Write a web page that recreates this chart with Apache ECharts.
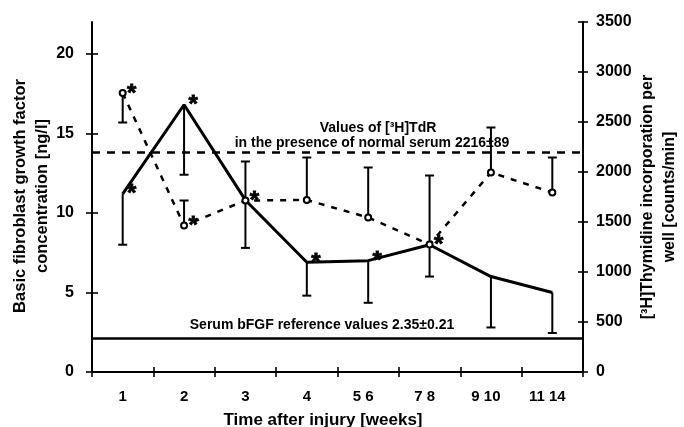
<!DOCTYPE html>
<html>
<head>
<meta charset="utf-8">
<script src="https://cdn.jsdelivr.net/npm/echarts@6/dist/echarts.min.js"></script>
<style>html,body{margin:0;padding:0;background:#fff;}#c{width:684px;height:427px;}</style>
</head>
<body>
<div id="c"></div>
<script>
// ---- data ----
const categories = ['1', '2', '3', '4', '5 6', '7 8', '9 10', '11 14'];
// bFGF concentration [ng/l] (left axis, solid line)
const bfgf       = [11.2, 16.8, 10.8, 6.9, 7.0, 8.0, 6.0, 5.0];
const bfgfErrEnd = [8.0, 12.4, 7.8, 4.8, 4.35, 6.0, 2.8, 2.45];
const bfgfStars  = [1, 1, 1, 1, 1, 1, 0, 0];
// [3H]Thymidine incorporation [counts/min] (right axis, dashed line)
const thy        = [2790, 1465, 1715, 1720, 1545, 1275, 1995, 1795];
const thyErrEnd  = [2495, 1715, 2105, 2145, 2045, 1965, 2445, 2145];
const thyStars   = [1, 1, 0, 0, 0, 0, 0, 0];
// reference lines
const serumBfgfRef = 2.15;
const normalSerumThy = 2200;
// tick values
const leftTicks = [0, 5, 10, 15, 20];
const leftMax = 22;
const rightMax = 3500;
const rightInterval = 500;

const FONT = '"Liberation Sans", Arial, sans-serif';

function errBarItem(params, api) {
  const i = api.value(0);
  const p0 = api.coord([i, api.value(1)]);
  const p1 = api.coord([i, api.value(2)]);
  const st = { stroke: '#000', lineWidth: 2 };
  return {
    type: 'group',
    children: [
      { type: 'line', shape: { x1: p0[0], y1: p0[1], x2: p1[0], y2: p1[1] }, style: st },
      { type: 'line', shape: { x1: p1[0] - 4.5, y1: p1[1], x2: p1[0] + 4.5, y2: p1[1] }, style: st }
    ]
  };
}

const starLabel = {
  show: true, formatter: '*', position: 'inside', offset: [9, 1],
  color: '#000', fontSize: 24, fontWeight: 'bold', fontFamily: FONT,
  textBorderColor: '#000', textBorderWidth: 0.8
};

const axisLineStyle = { lineStyle: { color: '#000', width: 2 } };
const tickStyle = { lineStyle: { color: '#000', width: 1.6 } };

const chart = echarts.init(document.getElementById('c'), null, { renderer: 'canvas' });
chart.setOption({
  animation: false,
  backgroundColor: '#fff',
  grid: { left: 92, right: 101, top: 22, bottom: 55, containLabel: false },
  xAxis: [
    {
      type: 'category', data: categories, position: 'bottom', boundaryGap: true,
      axisLine: { show: true, ...axisLineStyle },
      axisTick: { show: true, interval: 0, alignWithLabel: false, length: 5, ...tickStyle },
      axisLabel: {
        interval: 0, margin: 17, color: '#000', fontSize: 15, fontWeight: 'bold', fontFamily: FONT,
        formatter: v => v.indexOf(' ') >= 0 ? '{m|' + v + '}' : v,
        rich: { m: { fontSize: 15, fontWeight: 'bold', fontFamily: FONT, color: '#000', padding: [0, 10, 0, 0] } }
      },
      splitLine: { show: false }
    },
    {
      type: 'category', data: categories, position: 'bottom', boundaryGap: true,
      axisLine: { show: false },
      axisTick: { show: true, interval: 0, inside: true, length: 5, ...tickStyle },
      axisLabel: { show: false }, splitLine: { show: false }
    }
  ],
  yAxis: [
    {
      type: 'value', position: 'left', min: 0, max: leftMax,
      axisLine: { show: true, ...axisLineStyle },
      axisTick: { show: true, length: 6, customValues: leftTicks, ...tickStyle },
      axisLabel: { margin: 18, customValues: leftTicks, color: '#000', fontSize: 16, fontWeight: 'bold', fontFamily: FONT },
      splitLine: { show: false }
    },
    {
      type: 'value', position: 'right', min: 0, max: rightMax, interval: rightInterval,
      axisLine: { show: true, ...axisLineStyle },
      axisTick: { show: true, length: 5, ...tickStyle },
      axisLabel: { margin: 13, color: '#000', fontSize: 16, fontWeight: 'bold', fontFamily: FONT, formatter: v => String(v) },
      splitLine: { show: false }
    },
    {
      type: 'value', position: 'left', min: 0, max: leftMax,
      axisLine: { show: false },
      axisTick: { show: true, inside: true, length: 6, customValues: leftTicks, ...tickStyle },
      axisLabel: { show: false }, splitLine: { show: false }
    },
    {
      type: 'value', position: 'right', min: 0, max: rightMax, interval: rightInterval,
      axisLine: { show: false },
      axisTick: { show: true, inside: true, length: 5, ...tickStyle },
      axisLabel: { show: false }, splitLine: { show: false }
    }
  ],
  series: [
    {
      name: 'bFGF', type: 'line', xAxisIndex: 0, yAxisIndex: 0, data: bfgf,
      symbol: 'none', lineStyle: { color: '#000', width: 3 }, z: 3,
      markLine: {
        silent: true, symbol: 'none', label: { show: false },
        lineStyle: { color: '#000', width: 2.5, type: 'solid' },
        data: [{ yAxis: serumBfgfRef }]
      }
    },
    {
      name: 'Thymidine', type: 'line', xAxisIndex: 0, yAxisIndex: 1, data: thy,
      symbol: 'emptyCircle', symbolSize: 6,
      itemStyle: { color: '#000', borderColor: '#000', borderWidth: 1.2 },
      lineStyle: { color: '#000', width: 2.5, type: [6, 7] }, z: 4,
      markLine: {
        silent: true, symbol: 'none', label: { show: false },
        lineStyle: { color: '#000', width: 2.5, type: [8, 7] },
        data: [{ yAxis: normalSerumThy }]
      }
    },
    {
      name: 'bFGF error', type: 'custom', xAxisIndex: 0, yAxisIndex: 0,
      renderItem: errBarItem, encode: { x: 0, y: [1, 2] },
      data: bfgf.map((v, i) => [i, v, bfgfErrEnd[i]]), z: 2
    },
    {
      name: 'Thymidine error', type: 'custom', xAxisIndex: 0, yAxisIndex: 1,
      renderItem: errBarItem, encode: { x: 0, y: [1, 2] },
      data: thy.map((v, i) => [i, v, thyErrEnd[i]]), z: 2
    },
    {
      name: 'bFGF stars', type: 'scatter', xAxisIndex: 0, yAxisIndex: 0,
      symbolSize: 1, itemStyle: { color: 'rgba(0,0,0,0)', opacity: 1 }, label: starLabel, silent: true,
      data: bfgf.map((v, i) => bfgfStars[i] ? [i, v] : null).filter(d => d), z: 6
    },
    {
      name: 'Thymidine stars', type: 'scatter', xAxisIndex: 0, yAxisIndex: 1,
      symbolSize: 1, itemStyle: { color: 'rgba(0,0,0,0)', opacity: 1 }, label: starLabel, silent: true,
      data: thy.map((v, i) => thyStars[i] ? [i, v] : null).filter(d => d), z: 6
    }
  ],
  graphic: [
    {
      type: 'text', x: 31, y: 196, rotation: Math.PI / 2,
      style: {
        text: 'Basic fibroblast growth factor\nconcentration [ng/l]',
        font: 'bold 16.5px ' + FONT, fill: '#000', align: 'center', verticalAlign: 'middle', lineHeight: 22
      }
    },
    {
      type: 'text', x: 659, y: 197, rotation: Math.PI / 2,
      style: {
        text: '[³H]Thymidine incorporation per\nwell [counts/min]',
        font: 'bold 16px ' + FONT, fill: '#000', align: 'center', verticalAlign: 'middle', lineHeight: 22
      }
    },
    {
      type: 'text', x: 323, y: 420,
      style: { text: 'Time after injury [weeks]', font: 'bold 17px ' + FONT, fill: '#000', align: 'center', verticalAlign: 'middle' }
    },
    {
      type: 'text', x: 378, y: 128,
      style: { text: 'Values of [³H]TdR', font: 'bold 14px ' + FONT, fill: '#000', align: 'center', verticalAlign: 'middle' }
    },
    {
      type: 'text', x: 372, y: 143,
      style: { text: 'in the presence of normal serum 2216±89', font: 'bold 14px ' + FONT, fill: '#000', align: 'center', verticalAlign: 'middle' }
    },
    {
      type: 'text', x: 322, y: 325,
      style: { text: 'Serum bFGF reference values 2.35±0.21', font: 'bold 14px ' + FONT, fill: '#000', align: 'center', verticalAlign: 'middle' }
    }
  ]
});
</script>
</body>
</html>
